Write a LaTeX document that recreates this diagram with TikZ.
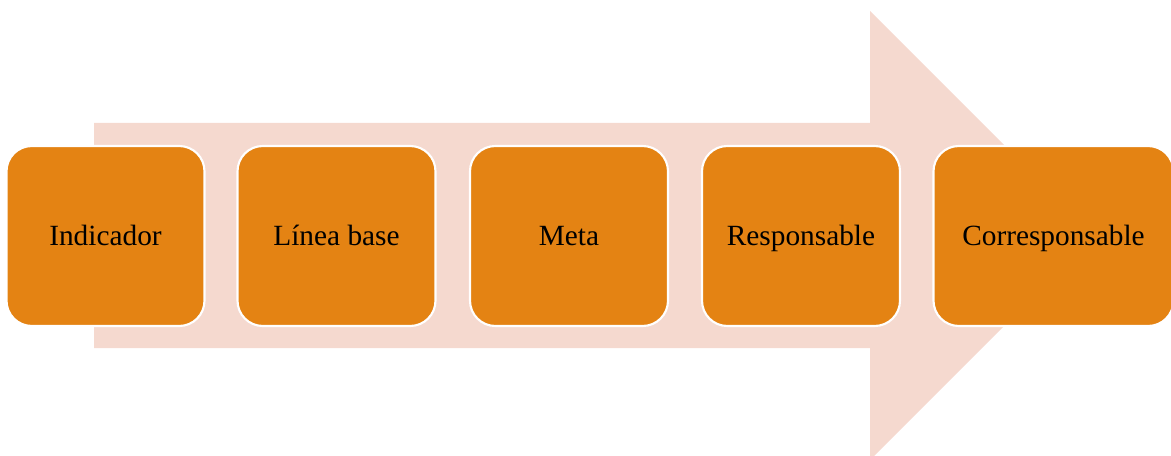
\documentclass[tikz,border=0pt]{standalone}
\usepackage{fontspec}
\setmainfont{Liberation Serif}
\definecolor{boxorange}{HTML}{E48313}
\definecolor{arrowpink}{HTML}{F5D9CF}
\begin{document}
\begin{tikzpicture}[x=0.75pt,y=-0.75pt,
  stepbox/.style={draw=white,line width=1.6pt,fill=boxorange,rounded corners=19pt,
    minimum width=148.5pt,minimum height=135pt,inner sep=0pt,
    text height=15pt,text depth=1.5pt,
    font=\fontsize{22}{26}\selectfont,text=black}]
\useasboundingbox (0,0) rectangle (1171,456);
\begin{scope}
\clip (0,0) rectangle (1171,456);
\fill[arrowpink] (94,123) -- (870,123) -- (870,11) -- (1094.5,235.5) -- (870,460) -- (870,348) -- (94,348) -- cycle;
\node[stepbox] (b1) at (105.5,236) {Indicador};
\node[stepbox] (b2) at (336.5,236) {Línea base};
\node[stepbox] (b3) at (569,236) {Meta};
\node[stepbox] (b4) at (801,236) {Responsable};
\node[stepbox,minimum width=180pt] (b5) at (1053.5,236) {Corresponsable};
\end{scope}
\end{tikzpicture}
\end{document}
